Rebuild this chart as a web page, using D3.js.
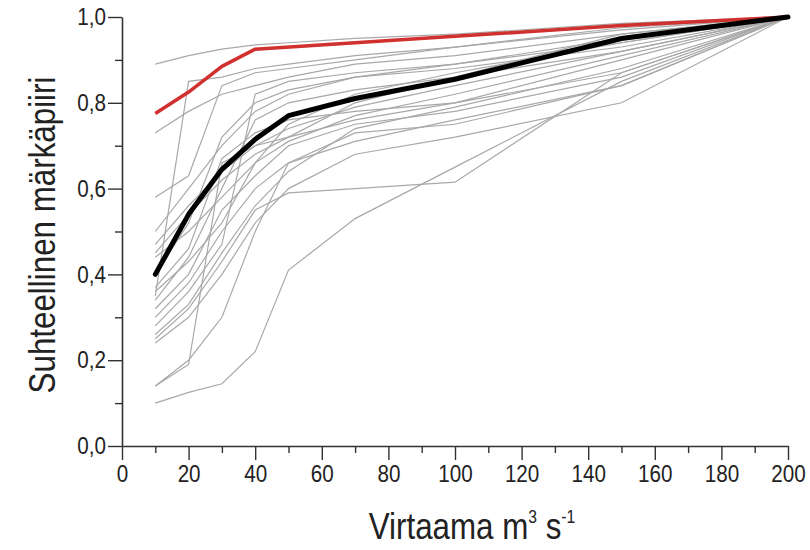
<!DOCTYPE html>
<html>
<head>
<meta charset="utf-8">
<script src="https://cdn.jsdelivr.net/npm/d3@7"></script>
<style>
body { margin: 0; background: #fff; }
text { font-family: "Liberation Sans", Arial, sans-serif; fill: #222; }
</style>
</head>
<body>
<div id="main_div"></div>
<script>
// flow values (m3/s) shared by all series
var flow = [10, 20, 30, 40, 50, 70, 100, 150, 200];

// mean curve (black) and one highlighted river (red)
var mean_line = [0.40, 0.54, 0.645, 0.715, 0.77, 0.81, 0.855, 0.95, 1.0];
var red_flow = [10, 20, 30, 40, 100, 150, 200];
var red_line = [0.775, 0.825, 0.885, 0.925, 0.955, 0.98, 1.0];

// individual cross sections (grey)
var grey_lines = [
    [0.89, 0.91, 0.925, 0.935, 0.94, 0.95, 0.96, 0.985, 1.0],
    [0.73, 0.78, 0.82, 0.84, 0.86, 0.89, 0.91, 0.96, 1.0],
    [0.58, 0.63, 0.84, 0.87, 0.88, 0.90, 0.93, 0.97, 1.0],
    [0.35, 0.85, 0.86, 0.88, 0.89, 0.91, 0.93, 0.975, 1.0],
    [0.50, 0.60, 0.70, 0.78, 0.82, 0.86, 0.89, 0.95, 1.0],
    [0.47, 0.56, 0.64, 0.70, 0.74, 0.79, 0.84, 0.92, 1.0],
    [0.44, 0.50, 0.58, 0.66, 0.71, 0.77, 0.82, 0.91, 1.0],
    [0.37, 0.46, 0.67, 0.73, 0.76, 0.78, 0.80, 0.87, 1.0],
    [0.32, 0.40, 0.55, 0.63, 0.70, 0.75, 0.78, 0.86, 1.0],
    [0.30, 0.38, 0.50, 0.60, 0.66, 0.71, 0.76, 0.84, 1.0],
    [0.28, 0.36, 0.47, 0.82, 0.85, 0.87, 0.89, 0.94, 1.0],
    [0.26, 0.33, 0.45, 0.56, 0.64, 0.74, 0.79, 0.88, 1.0],
    [0.25, 0.32, 0.43, 0.55, 0.59, 0.60, 0.615, 0.87, 1.0],
    [0.14, 0.20, 0.30, 0.50, 0.66, 0.73, 0.75, 0.84, 1.0],
    [0.14, 0.19, 0.66, 0.70, 0.72, 0.76, 0.80, 0.90, 1.0],
    [0.10, 0.125, 0.145, 0.22, 0.41, 0.53, 0.65, 0.85, 1.0],
    [0.40, 0.52, 0.72, 0.80, 0.83, 0.86, 0.88, 0.93, 1.0],
    [0.34, 0.44, 0.60, 0.76, 0.80, 0.83, 0.86, 0.92, 1.0],
    [0.24, 0.30, 0.40, 0.52, 0.60, 0.68, 0.72, 0.80, 1.0],
    [0.45, 0.54, 0.62, 0.68, 0.72, 0.80, 0.86, 0.96, 1.0],
    [0.36, 0.43, 0.52, 0.66, 0.75, 0.82, 0.87, 0.94, 1.0]
];

var x_ticks = [0, 20, 40, 60, 80, 100, 120, 140, 160, 180, 200];
var x_minor = [10, 30, 50, 70, 90, 110, 130, 150, 170, 190];
var y_ticks = [0, 0.2, 0.4, 0.6, 0.8, 1.0];
var y_minor = [0.1, 0.3, 0.5, 0.7, 0.9];

var x_scale = d3.scaleLinear().domain([0, 200]).range([122, 788]);
var y_scale = d3.scaleLinear().domain([0, 1]).range([446, 17]);

var svg = d3.select("#main_div").append("svg").attr("width", 810).attr("height", 550);

var line = d3.line()
    .x(function(d) { return x_scale(d[0]); })
    .y(function(d) { return y_scale(d[1]); });

function pairs(xs, ys) {
    return xs.map(function(x, i) { return [x, ys[i]]; });
}

svg.append("g").selectAll("path").data(grey_lines).enter().append("path")
    .attr("d", function(d) { return line(pairs(flow, d)); })
    .attr("fill", "none")
    .attr("stroke", "#a8a8a8")
    .attr("stroke-width", 1.2);

svg.append("path").attr("d", line(pairs(red_flow, red_line)))
    .attr("fill", "none").attr("stroke", "#d0302e").attr("stroke-width", 3.5)
    .attr("stroke-linejoin", "round");

svg.append("path").attr("d", line(pairs(flow, mean_line)))
    .attr("fill", "none").attr("stroke", "#000").attr("stroke-width", 5)
    .attr("stroke-linejoin", "round").attr("stroke-linecap", "round");

// axes
var fmt = function(d) { return d3.format(".1f")(d).replace(".", ","); };
var font = "Liberation Sans, Arial, sans-serif";

// squeeze text sideways, the original uses a narrow font
function narrow(sel, k) {
    sel.each(function() {
        var w = this.getComputedTextLength();
        d3.select(this).attr("textLength", w * k).attr("lengthAdjust", "spacingAndGlyphs");
    });
}

var g_x = svg.append("g").attr("transform", "translate(0,446)")
    .call(d3.axisBottom(x_scale).tickValues(x_ticks).tickSize(14).tickSizeOuter(0).tickPadding(5));
svg.append("g").attr("transform", "translate(0,446)")
    .call(d3.axisBottom(x_scale).tickValues(x_minor).tickSize(7).tickFormat("").tickSizeOuter(0))
    .select(".domain").remove();

var g_y = svg.append("g").attr("transform", "translate(122,0)")
    .call(d3.axisLeft(y_scale).tickValues(y_ticks).tickSize(14).tickSizeOuter(0).tickPadding(2).tickFormat(fmt));
svg.append("g").attr("transform", "translate(122,0)")
    .call(d3.axisLeft(y_scale).tickValues(y_minor).tickSize(7).tickFormat("").tickSizeOuter(0))
    .select(".domain").remove();

svg.selectAll(".domain").attr("stroke", "#333").attr("stroke-width", 1.6);
svg.selectAll(".tick line").attr("stroke", "#333").attr("stroke-width", 1.4);
svg.selectAll(".tick text").attr("font-size", 24).attr("font-family", font).attr("fill", "#222")
    .call(narrow, 0.86);

// titles
svg.append("text")
    .attr("transform", "translate(55,235) rotate(-90)")
    .attr("text-anchor", "middle")
    .attr("font-family", font)
    .attr("font-size", 36)
    .text("Suhteellinen märkäpiiri")
    .call(narrow, 0.87);

var xt = svg.append("g").attr("transform", "translate(472,539) scale(0.87,1)");
var xtt = xt.append("text")
    .attr("text-anchor", "middle")
    .attr("font-family", font)
    .attr("font-size", 36);
xtt.append("tspan").text("Virtaama m");
xtt.append("tspan").attr("font-size", 18).attr("dy", -16).text("3");
xtt.append("tspan").attr("dy", 16).text(" s");
xtt.append("tspan").attr("font-size", 18).attr("dy", -16).text("-1");
</script>
</body>
</html>
